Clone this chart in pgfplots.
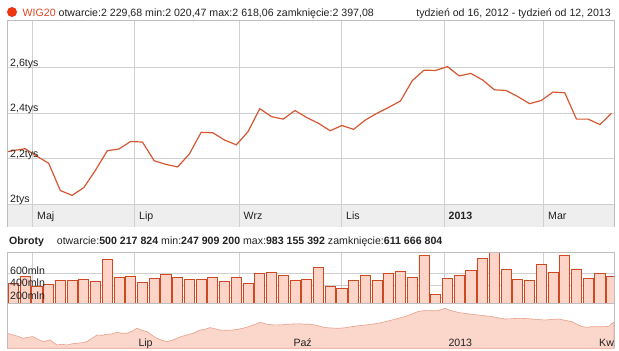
\documentclass[border=0pt]{standalone}
\usepackage{fontspec}
\setmainfont{Liberation Sans}
\usepackage{pgfplots}
\pgfplotsset{compat=1.18}
\definecolor{wigline}{RGB}{214,88,50}
\definecolor{wigred}{RGB}{222,70,36}
\definecolor{dotred}{RGB}{236,54,18}
\definecolor{barfill}{RGB}{253,213,200}
\definecolor{baredge}{RGB}{206,72,34}
\definecolor{navfill}{RGB}{251,214,202}
\definecolor{navline}{RGB}{232,160,140}
\definecolor{gridc}{RGB}{208,208,208}
\definecolor{framec}{RGB}{190,190,190}
\definecolor{bandc}{RGB}{238,238,238}
\definecolor{txt}{RGB}{34,34,34}
\begin{document}
\begin{tikzpicture}
\fontsize{10.6}{12}\selectfont
\path[use as bounding box] (0pt,0pt) rectangle (619pt,351pt);
\fill[white] (0pt,0pt) rectangle (619pt,351pt);
% header
\fill[dotred] (12pt,339pt) circle (5pt);
\node[anchor=base west, inner sep=0, text=txt] at (22.5pt,334.5pt) {\textcolor{wigred}{WIG20} otwarcie:2 229,68 min:2 020,47 max:2 618,06 zamknięcie:2 397,08};
\node[anchor=base east, inner sep=0, text=txt] at (611pt,334.5pt) {tydzień od 16, 2012 - tydzień od 12, 2013};
% label band
\fill[bandc] (7pt,124pt) rectangle (614pt,147pt);
\begin{axis}[at={(7pt,124pt)}, anchor=south west, scale only axis,
  width=607pt, height=206.3pt,
  xmin=-0.55, xmax=51.2, ymin=1.8989, ymax=2.8057,
  axis line style={draw=none}, tick style={draw=none},
  xtick={1.586,10.27,19.23,27.93,36.71,45.15}, ytick={2,2.2,2.4,2.6},
  xticklabels={}, yticklabels={},
  grid=major, major grid style={gridc, line width=0.7pt}]
\addplot[wigline, line width=1.2pt] table {
x y
-1 2.225
0 2.235
1 2.243
2 2.210
3 2.179
4 2.059
5 2.038
6 2.072
7 2.149
8 2.234
9 2.242
10 2.275
11 2.272
12 2.190
13 2.174
14 2.163
15 2.220
16 2.315
17 2.313
18 2.281
19 2.260
20 2.318
21 2.419
22 2.384
23 2.373
24 2.411
25 2.380
26 2.355
27 2.322
28 2.345
29 2.328
30 2.369
31 2.399
32 2.425
33 2.453
34 2.542
35 2.588
36 2.587
37 2.604
38 2.563
39 2.574
40 2.545
41 2.502
42 2.499
43 2.472
44 2.441
45 2.455
46 2.492
47 2.489
48 2.373
49 2.373
50 2.349
51 2.399
};
\node[anchor=base west, inner sep=0, text=txt, xshift=3pt, yshift=1.2pt] at (axis cs:-0.55,2.6) {2,6tys};
\node[anchor=base west, inner sep=0, text=txt, xshift=3pt, yshift=1.2pt] at (axis cs:-0.55,2.4) {2,4tys};
\node[anchor=base west, inner sep=0, text=txt, xshift=3pt, yshift=1.2pt] at (axis cs:-0.55,2.2) {2,2tys};
\node[anchor=base west, inner sep=0, text=txt, xshift=3pt, yshift=1.2pt] at (axis cs:-0.55,2.0) {2tys};
\end{axis}
\draw[framec, line width=0.7pt] (7pt,124pt) -- (7pt,330.3pt) -- (614pt,330.3pt) -- (614pt,124pt);
\node[anchor=base west, inner sep=0, text=txt] at (37pt,131.5pt) {Maj};
\node[anchor=base west, inner sep=0, text=txt] at (139pt,131.5pt) {Lip};
\node[anchor=base west, inner sep=0, text=txt] at (243.5pt,131.5pt) {Wrz};
\node[anchor=base west, inner sep=0, text=txt] at (346pt,131.5pt) {Lis};
\node[anchor=base west, inner sep=0, text=txt] at (448.5pt,131.5pt) {\bfseries 2013};
\node[anchor=base west, inner sep=0, text=txt] at (548pt,131.5pt) {Mar};
% volume header
\node[anchor=base west, inner sep=0, text=txt] at (9pt,106pt) {\bfseries Obroty};
\node[anchor=base west, inner sep=0, text=txt] at (56.7pt,106pt) {otwarcie:\textbf{500 217 824} min:\textbf{247 909 200} max:\textbf{983 155 392} zamknięcie:\textbf{611 666 804}};
% volume bars
\begin{axis}[at={(7pt,47.7pt)}, anchor=south west, scale only axis,
  width=607pt, height=51pt,
  xmin=-0.55, xmax=51.2, ymin=95, ymax=962,
  axis line style={draw=none}, tick style={draw=none},
  xtick={1.586,10.27,19.23,27.93,36.71,45.15}, ytick={200,400,600},
  xticklabels={}, yticklabels={},
  grid=major, major grid style={gridc, line width=0.7pt},
  ybar, bar width=0.86, bar shift=0pt]
\addplot[fill=barfill, draw=baredge, line width=0.8pt] table {
x y
0 435
1 547
2 377
3 418
4 486
5 486
6 503
7 474
8 843
9 537
10 554
11 452
12 520
13 581
14 537
15 503
16 503
17 537
18 474
19 537
20 435
21 605
22 622
23 576
24 491
25 508
26 712
27 384
28 350
29 491
30 571
31 491
32 605
33 639
34 537
35 911
36 248
37 520
38 571
39 656
40 860
41 983
42 673
43 503
44 486
45 758
46 622
47 911
48 673
49 520
50 605
51 554
};
\node[anchor=base west, inner sep=0, text=txt, xshift=3pt, yshift=-0.5pt] at (axis cs:-0.55,600) {600mln};
\node[anchor=base west, inner sep=0, text=txt, xshift=3pt, yshift=-1.3pt] at (axis cs:-0.55,400) {400mln};
\node[anchor=base west, inner sep=0, text=txt, xshift=3pt, yshift=-2.5pt] at (axis cs:-0.55,200) {200mln};
\end{axis}
% navigator
\begin{axis}[at={(7pt,2.7pt)}, anchor=south west, scale only axis,
  width=607pt, height=45pt,
  xmin=7, xmax=614, ymin=0, ymax=45, hide axis]
\addplot[fill=navfill, draw=navline, line width=0.6pt] table {
x y
7 15
13 13.3
18 12
23 10
28 11
33 11.7
38 9
43 6.7
50 8.3
57 3.3
62 4
67 3.3
72 4.5
77 5
82 5.5
87 6.7
92 10
97 13.3
102 13
107 14
112 14.5
117 16
122 15
127 15
132 17
137 20
142 18
147 16.7
152 13
157 10
162 8
167 6.7
172 8
177 10
182 12
187 13.3
193 15
200 18.3
205 19
210 20.7
215 19.5
220 18.3
227 18
233 18.3
238 19
243 20
248 21.5
253 23.3
257 24.5
260 26
264 25
267 24
273 23.5
280 23.3
287 24
293 24.3
300 24.5
305 24
310 24
315 23.3
320 22
325 20.7
331 20.3
338 20
345 20.5
352 21.7
358 22.5
365 23.3
371 24
378 25
385 26.5
392 28.3
398 30
405 31.7
411 34
418 36.7
423 37.5
428 37.7
433 37.5
438 37.7
442 39
445 40
450 38
455 36.7
460 35.5
465 35
471 34
478 33.3
485 32.5
492 31.7
498 30.5
505 29.3
511 29.5
518 30
525 29.8
532 29.3
538 28.8
545 28.3
551 28.8
558 29.3
565 28
572 26.7
577 24
582 21.7
587 21
592 21.7
598 21.5
605 21.7
609 22
612 25
614 26
} \closedcycle;
\end{axis}
\draw[framec, line width=0.7pt] (7pt,2.7pt) -- (7pt,98.7pt) -- (614pt,98.7pt) -- (614pt,2.7pt);
\draw[framec, line width=0.6pt] (7pt,47.7pt) -- (614pt,47.7pt);
\node[anchor=base west, inner sep=0, text=txt] at (138.3pt,4.5pt) {Lip};
\node[anchor=base west, inner sep=0, text=txt] at (293.3pt,4.5pt) {Paź};
\node[anchor=base west, inner sep=0, text=txt] at (448.3pt,4.5pt) {2013};
\node[anchor=base west, inner sep=0, text=txt] at (599pt,4.5pt) {Kw};
\end{tikzpicture}
\end{document}
